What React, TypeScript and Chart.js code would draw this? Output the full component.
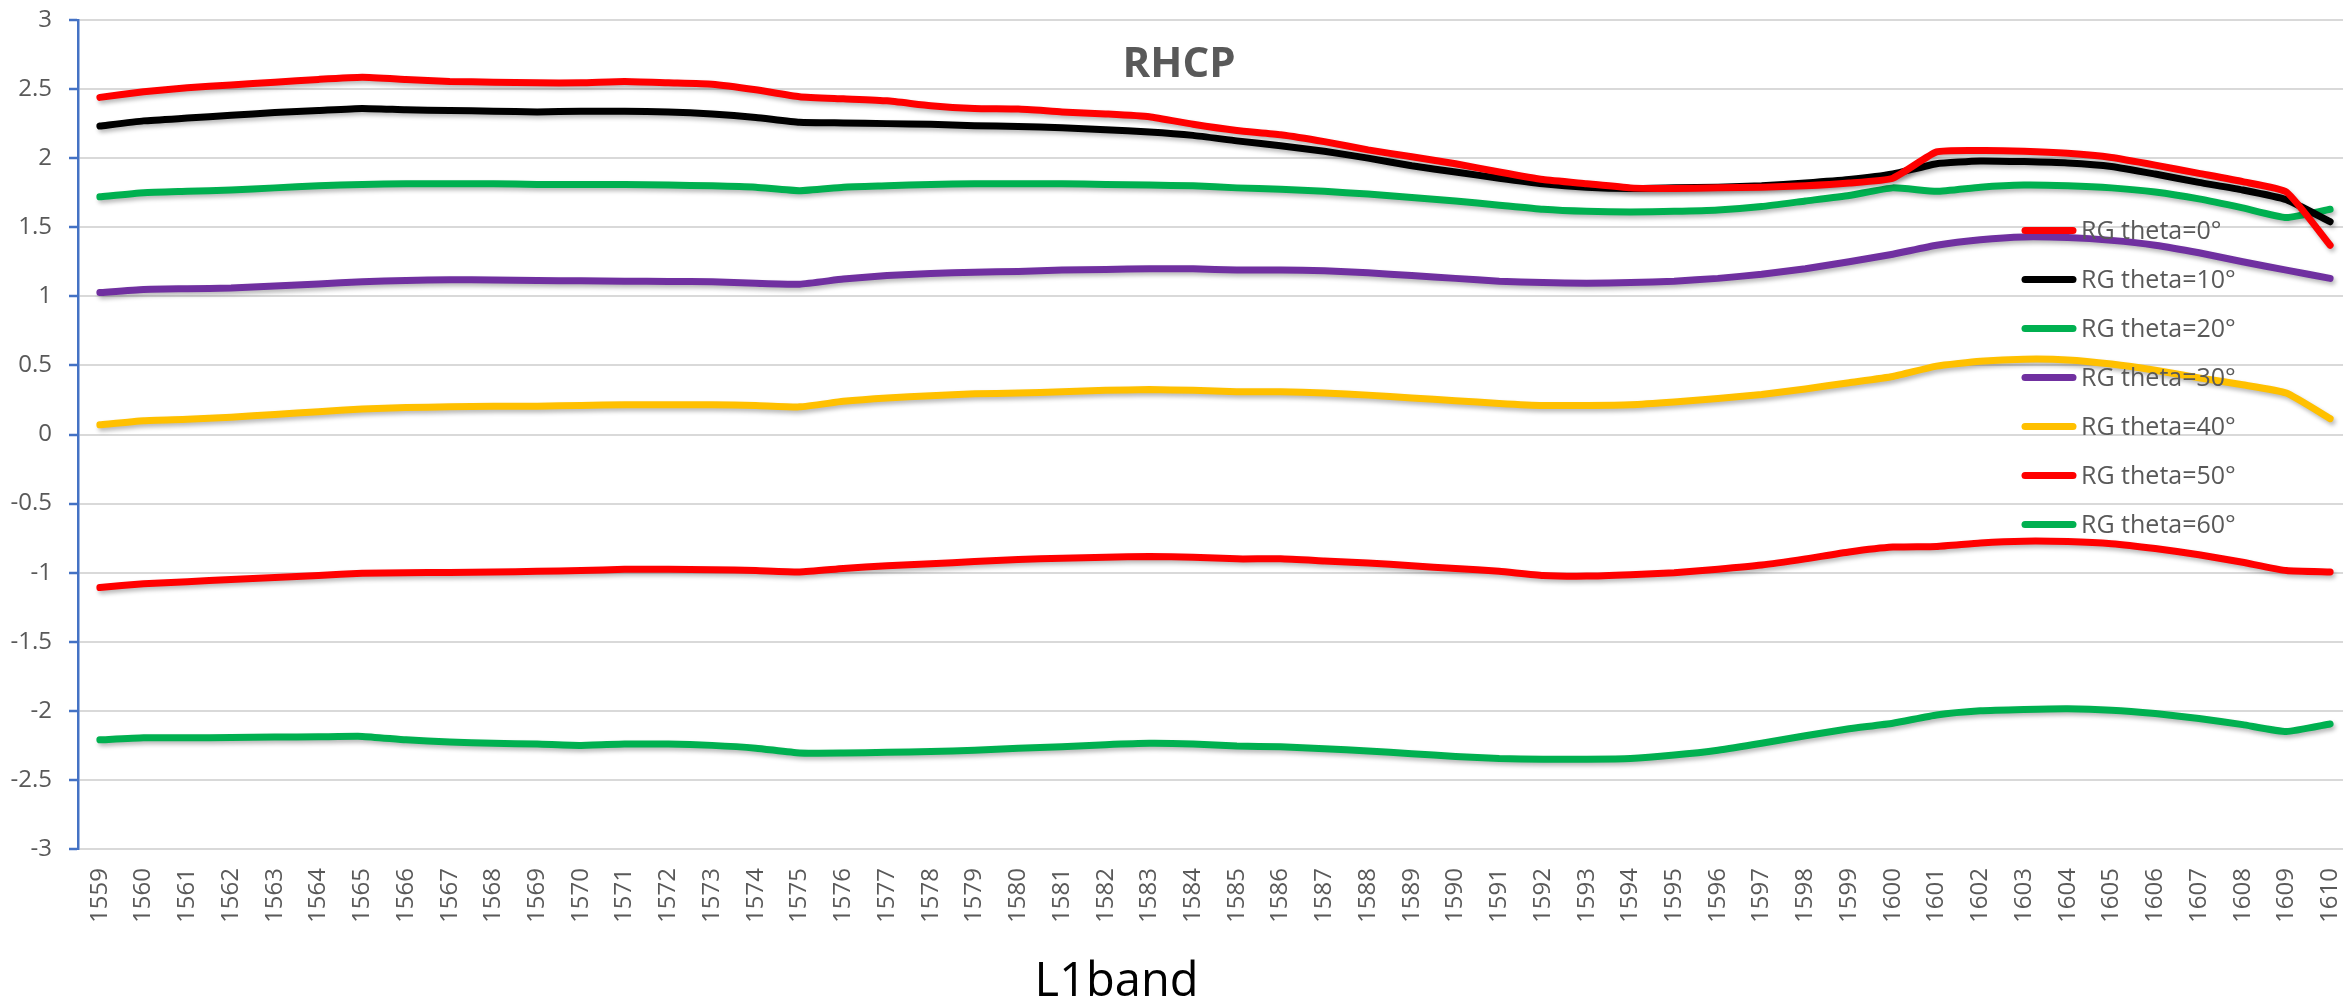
import React, { useEffect, useRef } from "react";
import { Chart, registerables } from "chart.js";

Chart.register(...registerables);

const CATEGORIES = [
  "1559", "1560", "1561", "1562", "1563", "1564", "1565", "1566", "1567", "1568",
  "1569", "1570", "1571", "1572", "1573", "1574", "1575", "1576", "1577", "1578",
  "1579", "1580", "1581", "1582", "1583", "1584", "1585", "1586", "1587", "1588",
  "1589", "1590", "1591", "1592", "1593", "1594", "1595", "1596", "1597", "1598",
  "1599", "1600", "1601", "1602", "1603", "1604", "1605", "1606", "1607", "1608",
  "1609", "1610",
];

const THETA_0 = [
  2.44, 2.48, 2.51, 2.53, 2.55, 2.57, 2.585, 2.57, 2.555, 2.55,
  2.545, 2.545, 2.555, 2.545, 2.535, 2.495, 2.445, 2.43, 2.415, 2.38,
  2.36, 2.355, 2.335, 2.32, 2.3, 2.245, 2.2, 2.17, 2.12, 2.06,
  2.01, 1.96, 1.9, 1.845, 1.815, 1.785, 1.78, 1.785, 1.79, 1.8,
  1.82, 1.855, 2.045, 2.055, 2.05, 2.035, 2.005, 1.95, 1.89, 1.83,
  1.755, 1.37,
];
const THETA_10 = [
  2.233, 2.27, 2.29, 2.31, 2.33, 2.345, 2.36, 2.35, 2.345, 2.34,
  2.335, 2.34, 2.34, 2.335, 2.32, 2.295, 2.26, 2.255, 2.25, 2.245,
  2.235, 2.23, 2.22, 2.205, 2.19, 2.165, 2.125, 2.09, 2.05, 2.0,
  1.945, 1.9, 1.855, 1.815, 1.79, 1.78, 1.785, 1.79, 1.8, 1.82,
  1.845, 1.885, 1.96, 1.98, 1.975, 1.965, 1.94, 1.885, 1.825, 1.77,
  1.7, 1.54,
];
const THETA_20 = [
  1.72, 1.75, 1.76, 1.77, 1.785, 1.8, 1.81, 1.815, 1.815, 1.815,
  1.81, 1.81, 1.81, 1.805, 1.8, 1.79, 1.765, 1.79, 1.8, 1.81,
  1.815, 1.815, 1.815, 1.81, 1.805, 1.8, 1.785, 1.775, 1.76, 1.74,
  1.715, 1.69, 1.66, 1.63, 1.615, 1.61, 1.615, 1.625, 1.65, 1.69,
  1.73, 1.785, 1.76, 1.79, 1.805, 1.8, 1.785, 1.755, 1.705, 1.64,
  1.57, 1.63,
];
const THETA_30 = [
  1.027, 1.05, 1.055, 1.06, 1.075, 1.09, 1.105, 1.115, 1.12, 1.118,
  1.115, 1.112, 1.11, 1.108, 1.105, 1.095, 1.088, 1.125, 1.15, 1.165,
  1.175, 1.18, 1.19, 1.195, 1.2, 1.2, 1.19, 1.19, 1.185, 1.17,
  1.15, 1.13, 1.11, 1.1, 1.095, 1.1, 1.11, 1.13, 1.16, 1.2,
  1.25, 1.305, 1.37, 1.41, 1.43, 1.425, 1.405, 1.37, 1.315, 1.25,
  1.19, 1.13,
];
const THETA_40 = [
  0.07, 0.1, 0.11, 0.125, 0.145, 0.165, 0.185, 0.195, 0.2, 0.205,
  0.205, 0.21, 0.215, 0.215, 0.215, 0.21, 0.2, 0.24, 0.265, 0.28,
  0.295, 0.3, 0.31, 0.32, 0.325, 0.32, 0.31, 0.31, 0.3, 0.285,
  0.265, 0.245, 0.225, 0.21, 0.21, 0.215, 0.235, 0.26, 0.29, 0.33,
  0.375, 0.42, 0.495, 0.53, 0.545, 0.54, 0.51, 0.465, 0.41, 0.36,
  0.3, 0.115,
];
const THETA_50 = [
  -1.108, -1.08, -1.065, -1.05, -1.035, -1.02, -1.005, -1.0, -0.998, -0.995,
  -0.99, -0.985, -0.975, -0.975, -0.978, -0.985, -0.995, -0.97, -0.95, -0.935,
  -0.92, -0.905, -0.895, -0.888, -0.883, -0.888, -0.9, -0.9, -0.915, -0.93,
  -0.95, -0.97, -0.99, -1.02, -1.025, -1.015, -1.0, -0.975, -0.945, -0.9,
  -0.85, -0.815, -0.81, -0.785, -0.772, -0.775, -0.79, -0.825, -0.87, -0.925,
  -0.985, -0.995,
];
const THETA_60 = [
  -2.21, -2.195, -2.195, -2.193, -2.19, -2.188, -2.185, -2.21, -2.225, -2.235,
  -2.24, -2.25, -2.24, -2.24, -2.25, -2.27, -2.305, -2.305, -2.3, -2.295,
  -2.285, -2.27, -2.26, -2.245, -2.235, -2.24, -2.255, -2.26, -2.275, -2.29,
  -2.31, -2.33, -2.345, -2.35, -2.35, -2.345, -2.32, -2.285, -2.235, -2.18,
  -2.13, -2.09, -2.03, -2.0, -1.99, -1.985, -1.995, -2.02, -2.055, -2.1,
  -2.15, -2.095,
];

const SERIES_NAMES = [
  "RG theta=0°", "RG theta=10°", "RG theta=20°", "RG theta=30°",
  "RG theta=40°", "RG theta=50°", "RG theta=60°",
];
const SERIES_VALUES = [THETA_0, THETA_10, THETA_20, THETA_30, THETA_40, THETA_50, THETA_60];
const SERIES_COLORS = ["#FF0000", "#000000", "#00B050", "#7030A0", "#FFC000", "#FF0000", "#00B050"];

const CHART_TITLE = "RHCP";
const X_TITLE = "L1band";
const Y_MIN = -3;
const Y_MAX = 3;
const Y_STEP = 0.5;

const overlayPlugin = {
  id: "overlay",
  beforeDatasetsDraw(chart: any) {
    const ctx = chart.ctx;
    ctx.save();
    ctx.shadowColor = "rgba(0,0,0,0.28)";
    ctx.shadowBlur = 4;
    ctx.shadowOffsetX = 2;
    ctx.shadowOffsetY = 3;
  },
  afterDatasetsDraw(chart: any) {
    const ctx = chart.ctx;
    ctx.restore();
    const area = chart.chartArea;
    ctx.save();
    chart.data.datasets.forEach((ds: any, i: number) => {
      const y = area.top + 210.5 + 49 * i;
      ctx.beginPath();
      ctx.strokeStyle = ds.borderColor;
      ctx.lineWidth = 7;
      ctx.lineCap = "round";
      ctx.moveTo(area.right - 327, y);
      ctx.lineTo(area.right - 279, y);
      ctx.stroke();
      ctx.fillStyle = "#595959";
      ctx.font = '25px "Open Sans"';
      ctx.textAlign = "left";
      ctx.textBaseline = "middle";
      ctx.fillText(ds.label, area.right - 271, y + 1);
    });
    ctx.restore();
  },
  afterDraw(chart: any) {
    const ctx = chart.ctx;
    const area = chart.chartArea;
    ctx.save();
    ctx.fillStyle = "#595959";
    ctx.font = 'bold 42px "Open Sans"';
    ctx.textAlign = "center";
    ctx.textBaseline = "alphabetic";
    ctx.fillText(CHART_TITLE, area.left + 0.4842 * (area.right - area.left), area.top + 57);
    ctx.fillStyle = "#000000";
    ctx.font = '47px "Open Sans"';
    ctx.fillText(X_TITLE, area.left + 0.4567 * (area.right - area.left), chart.height - 8);
    ctx.restore();
  },
};

export default function App() {
  const canvasRef = useRef<HTMLCanvasElement | null>(null);

  useEffect(() => {
    if (!canvasRef.current) return;
    const chart = new Chart(canvasRef.current, {
      type: "line",
      data: {
        labels: CATEGORIES,
        datasets: SERIES_NAMES.map((name, i) => ({
          label: name,
          data: SERIES_VALUES[i],
          borderColor: SERIES_COLORS[i],
          backgroundColor: SERIES_COLORS[i],
          borderWidth: 7,
          borderCapStyle: "round",
          borderJoinStyle: "round",
          pointRadius: 0,
          tension: 0.15,
          fill: false,
        })),
      },
      options: {
        animation: false,
        responsive: false,
        devicePixelRatio: 1,
        layout: { padding: { top: 20, right: 0, bottom: 0, left: 0 } },
        plugins: {
          legend: { display: false },
          title: { display: false },
          tooltip: { enabled: false },
        },
        scales: {
          x: {
            type: "category",
            offset: true,
            grid: { display: false, drawTicks: false },
            border: { display: false },
            ticks: {
              autoSkip: false,
              maxRotation: 90,
              minRotation: 90,
              padding: 19,
              color: "#595959",
              font: { family: "'Open Sans', sans-serif", size: 24 },
            },
            afterFit: (scale: any) => {
              scale.height = 155;
              scale.paddingLeft = 0;
              scale.paddingRight = 0;
            },
          },
          y: {
            min: Y_MIN,
            max: Y_MAX,
            ticks: {
              stepSize: Y_STEP,
              padding: 17,
              color: "#595959",
              font: { family: "'Open Sans', sans-serif", size: 24 },
              callback: (v: any) => String(Number(v)),
            },
            grid: {
              color: "#d9d9d9",
              lineWidth: 2,
              tickLength: 9,
              tickColor: "#4472C4",
              tickWidth: 2.5,
            },
            border: { display: true, color: "#4472C4", width: 2.5 },
            afterFit: (scale: any) => {
              scale.width = 78;
              scale.paddingTop = 0;
              scale.paddingBottom = 0;
            },
          },
        },
      },
      plugins: [overlayPlugin],
    } as any);
    return () => chart.destroy();
  }, []);

  return (
    <div
      style={{
        position: "absolute",
        left: 0,
        top: 0,
        width: 2343,
        height: 1004,
        overflow: "hidden",
        background: "#ffffff",
      }}
    >
      <canvas ref={canvasRef} width={2352} height={1004} style={{ display: "block" }} />
    </div>
  );
}
